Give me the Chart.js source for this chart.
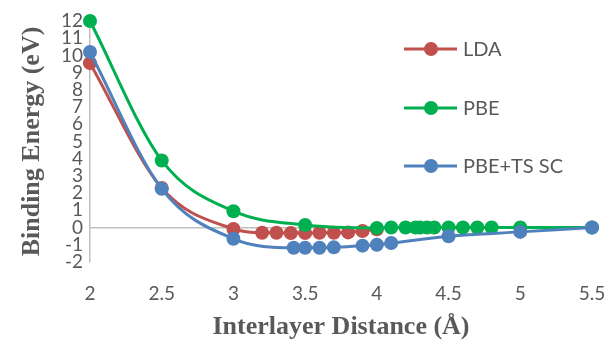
<!DOCTYPE html>
<html>
<head>
<meta charset="utf-8">
<script src="https://cdn.jsdelivr.net/npm/chart.js@4/dist/chart.umd.min.js"></script>
<style>
  html, body { margin: 0; padding: 0; background: #fff; }
  #wrap { width: 616px; height: 345px; }
</style>
</head>
<body>
<div id="wrap"><canvas id="chart" width="616" height="345"></canvas></div>
<script>
// data
const ldaX = [2, 2.5, 3, 3.2, 3.3, 3.4, 3.5, 3.6, 3.7, 3.8, 3.9, 4.0];
const ldaY = [9.55, 2.3, -0.08, -0.3, -0.3, -0.32, -0.32, -0.3, -0.3, -0.28, -0.2, -0.1];

const pbeX = [2, 2.5, 3, 3.5, 4.0, 4.1, 4.2, 4.27, 4.3, 4.35, 4.4, 4.5, 4.6, 4.7, 4.8, 5.0, 5.5];
const pbeY = [12, 3.9, 0.95, 0.15, -0.02, 0, 0, 0, 0, 0, 0, 0, 0, 0, 0, 0, 0];

const tsX = [2, 2.5, 3, 3.42, 3.5, 3.6, 3.7, 3.9, 4.0, 4.1, 4.5, 5.0, 5.5];
const tsY = [10.2, 2.25, -0.65, -1.17, -1.17, -1.17, -1.15, -1.05, -1.0, -0.9, -0.5, -0.25, 0];

const seriesNames = ['LDA', 'PBE', 'PBE+TS SC'];
const colors = ['#C0504D', '#00B050', '#4F81BD'];
const xTicks = [2, 2.5, 3, 3.5, 4, 4.5, 5, 5.5];

const toPts = (xs, ys) => xs.map((x, i) => ({ x: x, y: ys[i] }));

function ds(i, xs, ys) {
	return {
		label: seriesNames[i],
		data: toPts(xs, ys),
		borderColor: colors[i],
		backgroundColor: colors[i],
		borderWidth: 3,
		pointRadius: 7,
		pointHoverRadius: 7,
		pointBorderWidth: 0,
		cubicInterpolationMode: 'monotone',
		clip: false,
		order: 3 - i, // LDA at the back, PBE+TS SC on top
	};
}

// legend drawn inside the plot like the original
const sideLegend = {
	id: 'sideLegend',
	afterDraw(chart) {
		const ctx = chart.ctx;
		const rows = [49, 108, 166];
		ctx.save();
		chart.data.datasets.forEach((d, i) => {
			const y = rows[i];
			ctx.strokeStyle = d.borderColor;
			ctx.lineWidth = 3;
			ctx.beginPath();
			ctx.moveTo(404, y);
			ctx.lineTo(457, y);
			ctx.stroke();
			ctx.fillStyle = d.backgroundColor;
			ctx.beginPath();
			ctx.arc(431, y, 7, 0, Math.PI * 2);
			ctx.fill();
			ctx.fillStyle = '#595959';
			ctx.font = '20px Lato';
			ctx.textAlign = 'left';
			ctx.textBaseline = 'middle';
			ctx.fillText(d.label, 463, y + 1);
		});
		ctx.restore();
	}
};

new Chart(document.getElementById('chart').getContext('2d'), {
	type: 'line',
	data: {
		datasets: [ds(0, ldaX, ldaY), ds(1, pbeX, pbeY), ds(2, tsX, tsY)]
	},
	options: {
		responsive: false,
		animation: false,
		layout: { padding: { top: 21, right: 24, left: 0, bottom: 0 } },
		plugins: {
			legend: { display: false },
			tooltip: { enabled: false }
		},
		scales: {
			x: {
				type: 'linear',
				min: 2,
				max: 5.5,
				afterBuildTicks: (axis) => { axis.ticks = xTicks.map(v => ({ value: v })); },
				afterFit: (axis) => { axis.height = 83; },
				ticks: {
					color: '#595959',
					font: { family: 'Lato', size: 19 },
					padding: 3,
					callback: (v) => String(v)
				},
				// invisible tick marks push the labels down without widening the side padding
				grid: { drawOnChartArea: false, drawTicks: true, tickLength: 17, color: 'rgba(0,0,0,0)' },
				border: { display: false },
				title: {
					display: true,
					text: 'Interlayer Distance (Å)',
					color: '#595959',
					font: { family: 'Liberation Serif', size: 26, weight: 'bold' },
					padding: { top: 4, bottom: 2 }
				}
			},
			y: {
				min: -2,
				max: 12,
				afterFit: (axis) => { axis.width = 90; },
				ticks: {
					stepSize: 1,
					autoSkip: false,
					color: '#595959',
					font: { family: 'Lato', size: 19 },
					padding: 7
				},
				grid: {
					drawTicks: false,
					lineWidth: 1.5,
					color: (c) => c.tick && c.tick.value === 0 ? '#BFBFBF' : 'rgba(0,0,0,0)'
				},
				border: { display: true, color: '#BFBFBF', width: 1.5 },
				title: {
					display: true,
					text: 'Binding Energy (eV)',
					color: '#595959',
					font: { family: 'Liberation Serif', size: 26, weight: 'bold' },
					padding: { top: 17, bottom: 4 }
				}
			}
		}
	},
	plugins: [sideLegend]
});
</script>
</body>
</html>
